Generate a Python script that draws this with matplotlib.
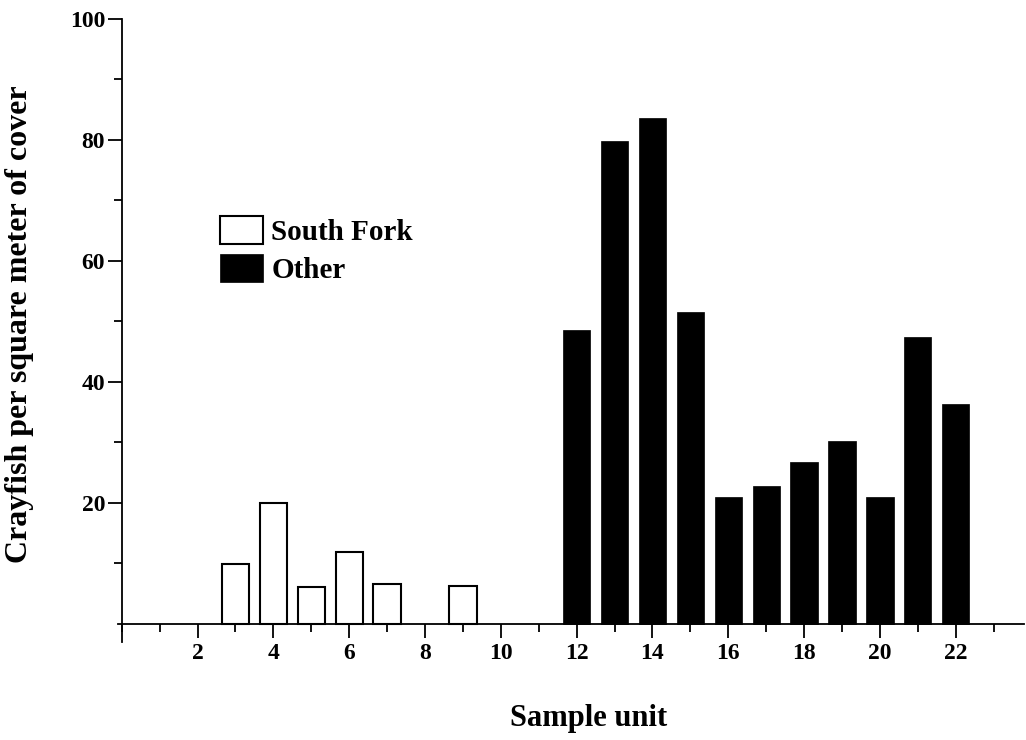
import matplotlib.pyplot as plt
from matplotlib.ticker import MultipleLocator, FixedLocator

plt.rcParams['font.family'] = ['Liberation Serif', 'DejaVu Serif']
plt.rcParams['font.weight'] = 'bold'

# South Fork sample units
sfUnits = [3, 4, 5, 6, 7, 9]
sfValues = [9.9, 20.0, 6.1, 11.8, 6.6, 6.2]

# Other sample units
otherUnits = [12, 13, 14, 15, 16, 17, 18, 19, 20, 21, 22]
otherValues = [48.6, 79.9, 83.7, 51.5, 21.0, 22.8, 26.8, 30.2, 21.0, 47.4, 36.4]

xTicks = [2, 4, 6, 8, 10, 12, 14, 16, 18, 20, 22]
yTicks = [20, 40, 60, 80, 100]

fig = plt.figure(figsize=(10.26, 7.4), dpi=100)
ax = fig.add_axes([0.115, 0.1324, 0.883, 0.842])

barWidth = 0.72
ax.bar(sfUnits, sfValues, width=barWidth, color='white', edgecolor='black',
       linewidth=1.5, label='South Fork')
ax.bar(otherUnits, otherValues, width=barWidth, color='black', edgecolor='black',
       linewidth=0.5, label='Other')

ax.set_xlim(-0.1, 23.8)
ax.set_ylim(-3, 100)

ax.spines['top'].set_visible(False)
ax.spines['right'].set_visible(False)
ax.spines['bottom'].set_position(('data', 0))
ax.spines['left'].set_position(('data', 0))
ax.spines['bottom'].set_linewidth(1.3)
ax.spines['left'].set_linewidth(1.3)

ax.xaxis.set_major_locator(FixedLocator(xTicks))
ax.xaxis.set_minor_locator(MultipleLocator(1))
ax.yaxis.set_major_locator(FixedLocator(yTicks))
ax.yaxis.set_minor_locator(FixedLocator([10, 30, 50, 70, 90]))

ax.tick_params(axis='both', which='major', direction='out', length=10, width=1.3,
               labelsize=17, pad=4)
ax.tick_params(axis='both', which='minor', direction='out', length=6, width=1.3)
ax.tick_params(axis='y', which='major', pad=2)
for lbl in ax.get_xticklabels() + ax.get_yticklabels():
    lbl.set_fontweight('bold')

ax.set_xlabel('Sample unit', fontsize=22, fontweight='bold')
ax.xaxis.set_label_coords(0.52, -0.10)
ax.set_ylabel('Crayfish per square meter of cover', fontsize=23, fontweight='bold')
ax.yaxis.set_label_coords(-0.093, 0.51)

leg = ax.legend(loc='upper left', bbox_to_anchor=(0.1, 0.703), frameon=False,
                fontsize=21, handlelength=1.45, handleheight=1.1,
                handletextpad=0.3, labelspacing=0.3, borderaxespad=0)
for t in leg.get_texts():
    t.set_fontweight('bold')

fig.savefig('out.png', dpi=100)
